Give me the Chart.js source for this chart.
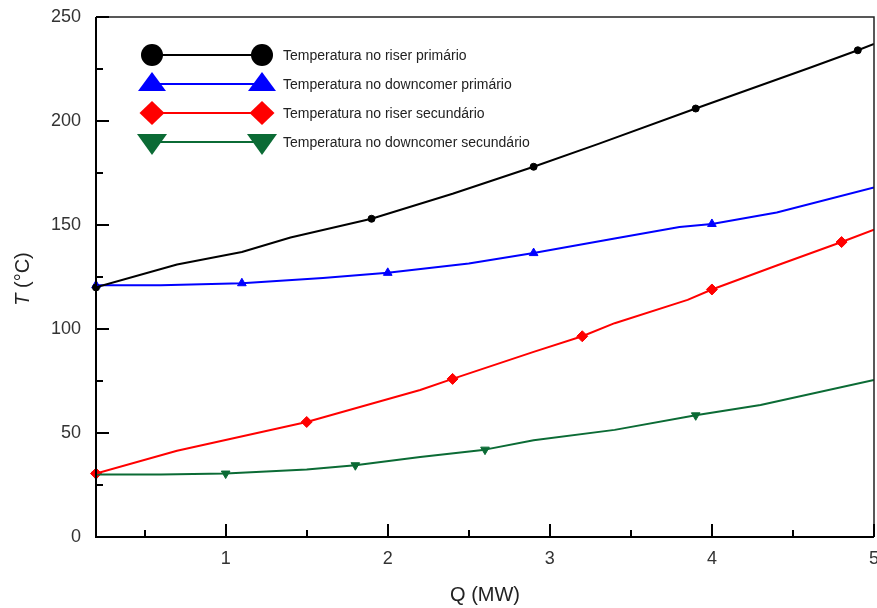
<!DOCTYPE html>
<html><head><meta charset="utf-8">
<script src="https://cdn.jsdelivr.net/npm/chart.js@4.4.1/dist/chart.umd.min.js"></script>
<style>html,body{margin:0;padding:0;background:#fff;}#wrap{width:877px;height:608px;}</style>
</head><body><div id="wrap"><canvas id="c" width="877" height="608"></canvas></div>
<script>
// ---- data ----
const xTicks = [1, 2, 3, 4, 5];
const xMinorTicks = [0.5, 1.5, 2.5, 3.5, 4.5];
const yTicks = [0, 50, 100, 150, 200, 250];
const yMinorTicks = [25, 75, 125, 175, 225];
const seriesNames = [
  'Temperatura no riser primário',
  'Temperatura no downcomer primário',
  'Temperatura no riser secundário',
  'Temperatura no downcomer secundário'
];
const qRiserPrim = [0.2, 0.7, 1.1, 1.4, 1.9, 2.4, 2.9, 3.3, 3.9, 4.6, 4.9, 5.0];
const tRiserPrim = [120, 131, 137, 144, 153, 165, 178, 189, 206, 225.5, 234, 237];
const mRiserPrim = [0.2, 1.9, 2.9, 3.9, 4.9];

const qDownPrim = [0.2, 0.6, 1.1, 1.6, 2.0, 2.5, 2.9, 3.4, 3.8, 4.0, 4.4, 5.0];
const tDownPrim = [121, 121, 122, 124.5, 127, 131.5, 136.5, 143.5, 149, 150.5, 156, 168];
const mDownPrim = [0.2, 1.1, 2.0, 2.9, 4.0];

const qRiserSec = [0.2, 0.7, 1.5, 2.2, 2.4, 2.9, 3.2, 3.4, 3.85, 4.0, 4.4, 4.8, 5.0];
const tRiserSec = [30.5, 41.5, 55.3, 70.7, 76, 89, 96.5, 102.8, 114, 119, 130.5, 141.8, 147.8];
const mRiserSec = [0.2, 1.5, 2.4, 3.2, 4.0, 4.8];

const qDownSec = [0.2, 0.6, 1.0, 1.5, 1.8, 2.2, 2.6, 2.9, 3.4, 3.9, 4.3, 5.0];
const tDownSec = [30, 30, 30.5, 32.5, 34.5, 38.5, 42, 46.5, 51.5, 58.5, 63.5, 75.5];
const mDownSec = [0.2, 1.0, 1.8, 2.6, 3.9];

// ---- build ----
const colors = ['#000000', '#0000ff', '#ff0000', '#0b6b35'];
const styles = [
  {ps: 'circle', r: 3.5, rot: 0},
  {ps: 'triangle', r: 5, rot: 0},
  {ps: 'rectRot', r: 5.5, rot: 0},
  {ps: 'triangle', r: 5, rot: 180}
];
const series = [
  [qRiserPrim, tRiserPrim, mRiserPrim],
  [qDownPrim, tDownPrim, mDownPrim],
  [qRiserSec, tRiserSec, mRiserSec],
  [qDownSec, tDownSec, mDownSec]
];
const datasets = [];
series.forEach(([q, t, m], i) => {
  datasets.push({
    label: seriesNames[i], data: q.map((v, k) => ({x: v, y: t[k]})),
    borderColor: colors[i], borderWidth: 2, pointRadius: 0, tension: 0, fill: false
  });
});
series.forEach(([q, t, m], i) => {
  datasets.push({
    label: seriesNames[i] + ' (marcadores)',
    data: m.map(v => ({x: v, y: t[q.indexOf(v)]})),
    showLine: false, pointStyle: styles[i].ps, pointRadius: styles[i].r,
    pointRotation: styles[i].rot, pointBackgroundColor: colors[i],
    pointBorderColor: colors[i], pointBorderWidth: 1, clip: false
  });
});

const FONT = '"Liberation Sans", Arial, sans-serif';

const deco = {
  id: 'deco',
  afterDraw(chart) {
    const ctx = chart.ctx, a = chart.chartArea;
    const xs = chart.scales.x, ys = chart.scales.y;
    ctx.save();
    // frame top/right
    ctx.strokeStyle = '#222'; ctx.lineWidth = 1.5;
    ctx.beginPath();
    ctx.moveTo(a.left, a.top); ctx.lineTo(a.right, a.top); ctx.lineTo(a.right, a.bottom);
    ctx.stroke();
    // axes
    ctx.strokeStyle = '#000'; ctx.lineWidth = 2;
    ctx.beginPath();
    ctx.moveTo(a.left, a.top); ctx.lineTo(a.left, a.bottom); ctx.lineTo(a.right, a.bottom);
    ctx.stroke();
    // ticks
    ctx.beginPath();
    xTicks.forEach(v => { const p = Math.round(xs.getPixelForValue(v)); ctx.moveTo(p, a.bottom); ctx.lineTo(p, a.bottom - 13); });
    xMinorTicks.forEach(v => { const p = Math.round(xs.getPixelForValue(v)); ctx.moveTo(p, a.bottom); ctx.lineTo(p, a.bottom - 7); });
    yTicks.forEach(v => { const p = Math.round(ys.getPixelForValue(v)); ctx.moveTo(a.left, p); ctx.lineTo(a.left + 13, p); });
    yMinorTicks.forEach(v => { const p = Math.round(ys.getPixelForValue(v)); ctx.moveTo(a.left, p); ctx.lineTo(a.left + 7, p); });
    ctx.stroke();

    // x tick labels
    ctx.fillStyle = '#333';
    ctx.font = '18px ' + FONT;
    ctx.textAlign = 'center';
    ctx.textBaseline = 'middle';
    xTicks.forEach(v => ctx.fillText(String(v), xs.getPixelForValue(v), 559));

    // axis titles
    ctx.fillStyle = '#222';
    ctx.font = '20px ' + FONT;
    ctx.textAlign = 'center';
    ctx.fillText('Q (MW)', 485, 595);
    ctx.save();
    ctx.translate(23, 279);
    ctx.rotate(-Math.PI / 2);
    ctx.font = 'italic 20px ' + FONT;
    const wT = ctx.measureText('T').width;
    ctx.font = '20px ' + FONT;
    const wR = ctx.measureText(' (°C)').width;
    const x0 = -(wT + wR) / 2;
    ctx.textAlign = 'left';
    ctx.font = 'italic 20px ' + FONT;
    ctx.fillText('T', x0, 0);
    ctx.font = '20px ' + FONT;
    ctx.fillText(' (°C)', x0 + wT, 0);
    ctx.restore();

    // legend
    const rows = [55, 84, 113, 142];
    const lx1 = 152, lx2 = 262;
    rows.forEach((ry, i) => {
      ctx.strokeStyle = colors[i]; ctx.lineWidth = 2;
      ctx.beginPath(); ctx.moveTo(lx1, ry); ctx.lineTo(lx2, ry); ctx.stroke();
      ctx.fillStyle = colors[i];
      [lx1, lx2].forEach(cx => {
        ctx.beginPath();
        if (i === 0) { ctx.arc(cx, ry, 11, 0, Math.PI * 2); }
        else if (i === 1) { ctx.moveTo(cx, ry - 12); ctx.lineTo(cx + 14, ry + 7); ctx.lineTo(cx - 14, ry + 7); ctx.closePath(); }
        else if (i === 2) { ctx.moveTo(cx, ry - 12); ctx.lineTo(cx + 12.5, ry); ctx.lineTo(cx, ry + 12); ctx.lineTo(cx - 12.5, ry); ctx.closePath(); }
        else { ctx.moveTo(cx - 15, ry - 8); ctx.lineTo(cx + 15, ry - 8); ctx.lineTo(cx, ry + 13); ctx.closePath(); }
        ctx.fill();
      });
      ctx.fillStyle = '#222';
      ctx.font = '14px ' + FONT;
      ctx.textAlign = 'left';
      ctx.fillText(seriesNames[i], 283, ry + 1);
    });
    ctx.restore();
  }
};

new Chart(document.getElementById('c'), {
  type: 'line',
  data: {datasets},
  options: {
    responsive: false, animation: false, devicePixelRatio: 1,
    layout: {autoPadding: false, padding: {top: 17, right: 3, left: 0, bottom: 0}},
    plugins: {legend: {display: false}, tooltip: {enabled: false}},
    elements: {line: {borderJoinStyle: 'round'}},
    scales: {
      x: {
        type: 'linear', min: 0.2, max: 5,
        afterBuildTicks: s => { s.ticks = xTicks.map(v => ({value: v})); },
        afterFit: s => { s.height = 71; s.paddingLeft = 0; s.paddingRight = 0; },
        grid: {display: false, drawTicks: false}, border: {display: false},
        ticks: {display: false}
      },
      y: {
        type: 'linear', min: 0, max: 250,
        afterBuildTicks: s => { s.ticks = yTicks.map(v => ({value: v})); },
        afterFit: s => { s.width = 96; s.paddingTop = 0; s.paddingBottom = 0; },
        grid: {display: false, drawTicks: false}, border: {display: false},
        ticks: {font: {family: FONT, size: 18}, color: '#333', padding: 15, autoSkip: false,
                callback: v => String(v)}
      }
    }
  },
  plugins: [deco]
});
</script></body></html>
